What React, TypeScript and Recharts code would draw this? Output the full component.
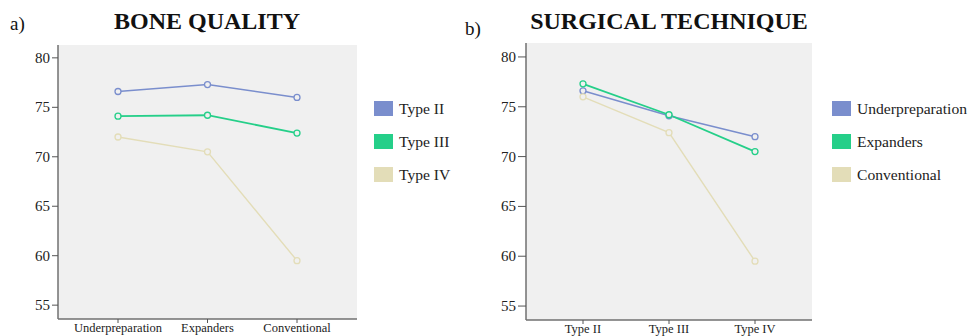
import React from 'react';
import { LineChart, Line, XAxis, YAxis, CartesianGrid } from 'recharts';

const boneCategories = ['Underpreparation', 'Expanders', 'Conventional'];
const typeII = [76.6, 77.3, 76.0];
const typeIII = [74.1, 74.2, 72.4];
const typeIV = [72.0, 70.5, 59.5];

const techCategories = ['Type II', 'Type III', 'Type IV'];
const underpreparation = [76.6, 74.1, 72.0];
const expanders = [77.3, 74.2, 70.5];
const conventional = [76.0, 72.4, 59.5];

const yTicks = [55, 60, 65, 70, 75, 80];

const BLUE = '#7a8ecd';
const GREEN = '#25cf89';
const BEIGE = '#e3ddb8';
const FONT = '"Liberation Serif", "Times New Roman", serif';

type Series = { name: string; values: number[]; color: string; width: number };

const boneSeries: Series[] = [
  { name: 'Type II', values: typeII, color: BLUE, width: 1.6 },
  { name: 'Type III', values: typeIII, color: GREEN, width: 1.8 },
  { name: 'Type IV', values: typeIV, color: BEIGE, width: 1.4 },
];

const techSeries: Series[] = [
  { name: 'Underpreparation', values: underpreparation, color: BLUE, width: 1.6 },
  { name: 'Expanders', values: expanders, color: GREEN, width: 1.8 },
  { name: 'Conventional', values: conventional, color: BEIGE, width: 1.4 },
];

// serif tick labels, drawn by hand so the font sticks
const XTick = (props: any) => {
  const { x, y, payload } = props;
  return (
    <text x={x} y={y} dy={9} textAnchor="middle" style={{ fontFamily: FONT, fontSize: 12.5, fill: '#222' }}>
      {payload.value}
    </text>
  );
};

const YTick = (props: any) => {
  const { x, y, payload } = props;
  return (
    <text x={x} y={y} dy={5} textAnchor="end" style={{ fontFamily: FONT, fontSize: 15, fill: '#222' }}>
      {payload.value}
    </text>
  );
};

interface PanelProps {
  left: number;
  width: number;
  categories: string[];
  series: Series[];
  margin: { top: number; right: number; bottom: number; left: number };
  yWidth: number;
  xHeight: number;
  domain: [number, number];
  pad: number;
  yTickSize: number;
}

const Panel: React.FC<PanelProps> = ({ left, width, categories, series, margin, yWidth, xHeight, domain, pad, yTickSize }) => {
  const data = categories.map((c, i) => {
    const row: any = { name: c };
    series.forEach((s) => (row[s.name] = s.values[i]));
    return row;
  });
  return (
    <div style={{ position: 'absolute', left, top: 0 }}>
      <LineChart width={width} height={336} data={data} margin={margin}>
        <CartesianGrid fill="#f0f0f0" horizontal={false} vertical={false} />
        <XAxis
          dataKey="name"
          height={xHeight}
          interval={0}
          padding={{ left: pad, right: pad }}
          tickSize={4}
          tickMargin={0}
          tickLine={{ stroke: '#555' }}
          axisLine={{ stroke: '#707070', strokeWidth: 1.5 }}
          tick={<XTick />}
        />
        <XAxis xAxisId="top" dataKey="name" orientation="top" height={0} tick={false} tickLine={false} axisLine={{ stroke: '#8a8a8a', strokeWidth: 1.5 }} />
        <YAxis
          domain={domain}
          ticks={yTicks}
          interval={0}
          width={yWidth}
          tickSize={yTickSize}
          tickMargin={2}
          tickLine={{ stroke: '#555' }}
          axisLine={{ stroke: '#707070', strokeWidth: 1.5 }}
          tick={<YTick />}
        />
        <YAxis yAxisId="r" orientation="right" domain={domain} width={0} tick={false} tickLine={false} axisLine={{ stroke: '#8a8a8a', strokeWidth: 1.5 }} />
        {series.map((s) => (
          <Line
            key={s.name}
            dataKey={s.name}
            stroke={s.color}
            strokeWidth={s.width}
            dot={{ r: 3, stroke: s.color, strokeWidth: 1.3, fill: '#f0f0f0' }}
            isAnimationActive={false}
          />
        ))}
      </LineChart>
    </div>
  );
};

const LegendBox: React.FC<{ left: number; series: Series[] }> = ({ left, series }) => (
  <div style={{ position: 'absolute', left, top: 101 }}>
    {series.map((s, i) => (
      <div key={s.name} style={{ position: 'absolute', top: i * 33, left: 0, display: 'flex', alignItems: 'center', whiteSpace: 'nowrap' }}>
        <div style={{ width: 19, height: 15, background: s.color }} />
        <span style={{ marginLeft: 6, fontSize: 15.6, fontFamily: FONT, color: '#222', lineHeight: '15px' }}>{s.name}</span>
      </div>
    ))}
  </div>
);

const textStyle: React.CSSProperties = { position: 'absolute', fontFamily: FONT, color: '#111', whiteSpace: 'nowrap', lineHeight: 1 };

export default function App() {
  return (
    <div style={{ position: 'absolute', left: 0, top: 0, width: 969, height: 336, background: '#fff', overflow: 'hidden' }}>
      <Panel
        left={0}
        width={480}
        categories={boneCategories}
        series={boneSeries}
        margin={{ top: 45, right: 123, bottom: 0, left: 0 }}
        yWidth={58}
        xHeight={17}
        domain={[53.6, 81.3]}
        pad={60}
        yTickSize={6}
      />
      <Panel
        left={480}
        width={489}
        categories={techCategories}
        series={techSeries}
        margin={{ top: 43, right: 157, bottom: 0, left: 0 }}
        yWidth={46}
        xHeight={16}
        domain={[53.6, 81.4]}
        pad={57}
        yTickSize={8}
      />
      <LegendBox left={374} series={boneSeries} />
      <LegendBox left={832} series={techSeries} />
      <div style={{ ...textStyle, left: 10, top: 14, fontSize: 19 }}>a)</div>
      <div style={{ ...textStyle, left: 465, top: 19, fontSize: 19 }}>b)</div>
      <div style={{ ...textStyle, left: 207, top: 9, fontSize: 24, fontWeight: 'bold', transform: 'translateX(-50%)' }}>BONE QUALITY</div>
      <div style={{ ...textStyle, left: 669, top: 9, fontSize: 24, fontWeight: 'bold', transform: 'translateX(-50%)' }}>SURGICAL TECHNIQUE</div>
    </div>
  );
}
